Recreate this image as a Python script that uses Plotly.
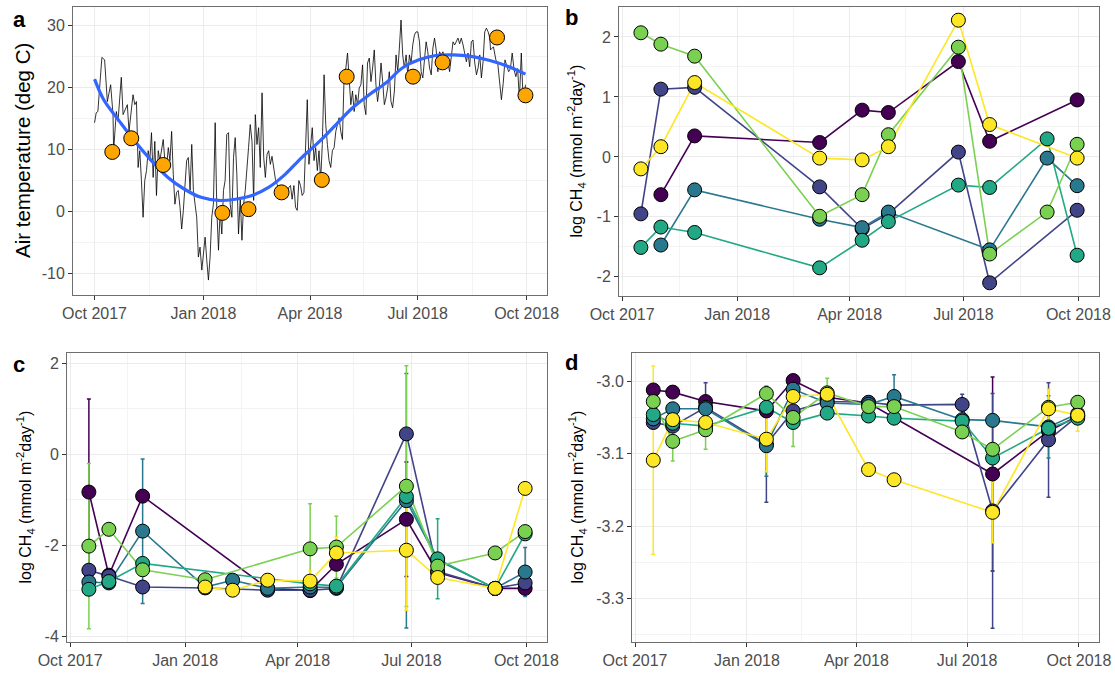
import pandas as pd
import plotly.graph_objects as go

W, H = 1115, 673
FONT = "Liberation Sans, Arial, Helvetica, sans-serif"

# ---------------------------------------------------------------- data
sample_dates = ["2017-10-16", "2017-11-01", "2017-11-28", "2018-01-17",
                "2018-02-08", "2018-03-08", "2018-04-11", "2018-05-02",
                "2018-06-27", "2018-07-22", "2018-09-06", "2018-09-30"]

# daily air temperature, as (days after 2017-10-01, deg C)
temp_day = [0, 1.4, 2.8, 4.2, 6.2, 8.5, 10.8, 13.6, 15.6, 16.1, 18.4, 19.8, 22.6,
            24.1, 27.7, 29.1, 32.5, 34.0, 35.4, 36.8, 38.2, 39.6, 41.0, 42.4,
            43.9, 45.3, 46.7, 48.1, 49.5, 50.9, 52.3, 53.8, 55.2, 58.0, 59.4,
            60.8, 62.3, 63.7, 65.1, 66.5, 67.9, 69.3, 70.7, 72.2, 73.6, 75.0,
            76.4, 77.8, 79.2, 80.7, 82.1, 83.5, 84.9, 86.3, 87.7, 89.1, 90.6,
            92.0, 93.4, 94.8, 96.2, 97.6, 99.0, 100.4, 101.9, 103.3, 104.7,
            106.1, 107.5, 108.9, 110.3, 111.7, 113.2, 114.6, 116.0, 117.4,
            118.8, 120.2, 121.6, 123.1, 124.5, 125.9, 127.3, 130.1, 131.5,
            133.0, 134.4, 135.8, 137.2, 138.6, 140.0, 141.5, 142.9, 144.3,
            145.7, 147.1, 148.5, 149.9, 151.3, 152.8, 154.2, 155.6, 158.4,
            161.2, 162.7, 164.1, 165.5, 166.9, 168.4, 169.8, 171.2, 172.6,
            174.0, 175.4, 176.9, 178.3, 179.7, 181.1, 182.5, 183.9, 185.4,
            186.8, 188.2, 189.6, 191.0, 192.4, 193.9, 195.3, 196.7, 198.1,
            199.5, 200.9, 202.4, 203.8, 205.2, 206.6, 208.0, 209.4, 210.8,
            212.3, 213.7, 215.1, 216.5, 217.9, 219.3, 220.7, 222.2, 223.6,
            225.0, 226.4, 227.8, 229.2, 230.6, 232.1, 233.5, 234.9, 236.3,
            237.7, 239.1, 240.5, 242.0, 243.4, 244.8, 246.2, 247.6, 249.0,
            250.4, 251.8, 253.3, 254.7, 256.1, 257.5, 258.9, 260.3, 261.7,
            263.2, 264.6, 266.0, 267.4, 268.8, 270.2, 271.6, 273.1, 274.5,
            275.9, 277.3, 278.7, 280.1, 281.5, 283.0, 284.4, 285.8, 287.2,
            288.6, 290.0, 291.4, 292.9, 294.3, 295.7, 298.5, 299.9, 301.4,
            302.8, 304.2, 305.6, 307.0, 308.4, 309.8, 311.3, 312.7, 314.1,
            315.5, 316.9, 318.3, 319.7, 321.2, 322.6, 324.0, 325.4, 326.8,
            328.2, 329.6, 331.0, 332.5, 333.9, 334.5, 337.0, 339.0, 340.6,
            343.7, 345.2, 346.7, 349.8, 351.3, 352.8, 354.4, 355.9, 357.4,
            358.9, 360.5, 362.0, 363.5, 364.0]
temp_c = [14.3, 15.9, 16.1, 20.4, 24.8, 24.4, 17.7, 20.4, 15.6, 9.8, 16.1, 14.5, 21.6,
          15.6, 17.2, 12.9, 18.8, 17.2, 17.7, 7.1, 9.8, 5.0, -0.9, 5.0,
          6.6, 9.8, 8.2, 12.7, 5.5, 11.3, 2.6, 9.8, 8.2, 11.6, 8.2,
          7.1, 10.3, 8.2, 12.9, 6.0, 1.2, 3.1, 3.4, 0.7, -2.8, 0.2,
          4.5, 8.2, 8.7, 3.4, 10.8, 3.4, 1.2, -0.9, -7.3, -5.7, -9.4,
          -6.2, -4.1, -7.8, -11.0, -7.3, -0.9, 1.2, 14.3, 0.2, -6.2,
          0.2, -3.6, 3.4, 5.0, 12.4, 12.7, 1.2, -0.9, 8.7,
          11.9, 6.0, -3.6, 2.3, -4.6, 1.2, 3.4, 10.3, 14.0,
          11.3, 1.8, 15.6, 10.8, 13.5, 7.1, 19.1, 8.7, 5.5,
          9.2, 9.8, 7.6, 8.9, 6.8, 5.2, 4.4, 3.4, 2.6,
          3.4, 2.3, 3.9, 4.2, 2.0, 4.2, 0.7, 0.2, 5.0,
          4.2, 2.6, 3.1, 10.8, 18.0, 7.6, 10.8, 13.5, 8.2,
          10.3, 6.6, 9.8, 5.0, 10.8, 22.0, 14.0, 10.8, 8.2,
          7.1, 9.8, 10.3, 12.9, 14.0, 15.1, 12.9, 11.6, 21.7,
          23.1, 25.5, 20.9, 17.2, 19.4, 16.1, 18.8, 17.2, 19.9,
          20.4, 23.6, 17.2, 15.6, 23.9, 24.7, 20.9, 23.1, 26.0,
          20.4, 17.7, 19.9, 23.9, 20.9, 17.2, 18.3, 19.9, 22.5,
          17.7, 16.7, 19.4, 25.2, 22.5, 26.3, 30.8, 25.2, 23.1,
          25.2, 22.0, 25.2, 23.9, 26.8, 28.4, 28.9, 28.9, 27.3,
          22.5, 21.5, 24.7, 27.3, 25.7, 23.1, 22.0, 26.3, 27.9,
          26.0, 22.5, 25.7, 25.2, 25.7, 24.7, 24.1, 22.5, 25.2,
          27.3, 26.8, 27.3, 27.9, 27.0, 27.9, 26.8, 25.7, 24.1,
          25.5, 23.3, 27.3, 27.6, 23.9, 22.0, 23.1, 25.2, 21.5,
          24.1, 28.9, 29.5, 28.9, 27.9, 26.0, 26.5, 24.4, 23.8,
          18.0, 20.6, 24.4, 22.5, 23.0, 25.5, 22.8, 21.7, 23.0,
          18.0, 25.5, 18.0, 19.1, 20.4]

# smoothed temperature trend
smooth_day = [0, 8, 20, 34, 48, 62, 76, 90, 105, 119, 133, 147, 161, 175,
              190, 204, 218, 232, 246, 260, 274, 288, 303, 317, 334, 350, 364]
smooth_c = [21.3, 17.9, 14.8, 11.3, 8.2, 5.5, 3.6, 2.3, 1.8, 2.0, 2.6, 3.9,
            6.0, 8.7, 11.3, 14.0, 16.7, 18.8, 20.7, 23.1, 24.4, 25.1, 25.2,
            25.0, 24.3, 23.3, 22.1]

# air temperature on sampling days
sample_temp = [9.6, 11.8, 7.5, -0.2, 0.4, 3.1, 5.1, 21.7, 21.7, 24.0, 28.0, 18.7]

series_colors = ["#440154", "#414487", "#2A788E", "#22A884", "#7AD151", "#FDE725"]

# panel b: log CH4 flux per series
b_series1 = [None, -0.63, 0.35, None, None, 0.24, 0.78, 0.74, 1.59, 0.26, None, 0.95]
b_series2 = [-0.95, 1.13, 1.16, None, None, -0.50, -1.20, -0.95, 0.08, -2.10, None, -0.89]
b_series3 = [None, -1.47, -0.55, None, None, -1.04, -1.18, -0.92, None, -1.55, -0.02, -0.48]
b_series4 = [-1.51, -1.17, -1.26, None, None, -1.85, -1.39, -1.08, -0.47, -0.51, 0.30, -1.64]
b_series5 = [2.07, 1.88, 1.68, None, None, -0.99, -0.63, 0.37, 1.83, -1.62, -0.92, 0.21]
b_series6 = [-0.20, 0.17, 1.24, None, None, -0.02, -0.05, 0.17, 2.28, 0.54, None, -0.02]

# panel c: means and error half-widths
c_series1 = [-0.83, -2.66, -0.92, None, None, -2.95, -3.00, -2.42, -1.43, -2.60, -2.95, -2.95]
c_series2 = [-2.55, -2.68, -2.92, -2.94, None, -2.99, -2.99, -2.95, 0.45, -2.58, -2.95, -2.83]
c_series3 = [-2.81, -2.83, -1.69, -2.92, -2.77, -2.95, -2.92, -2.93, -1.02, -2.33, -2.95, -2.59]
c_series4 = [-2.97, -2.80, -2.40, None, None, None, -2.85, -2.90, -0.93, -2.30, -2.95, -1.75]
c_series5 = [-2.02, -1.65, -2.54, -2.76, None, None, -2.08, -2.04, -0.70, -2.46, -2.17, -1.70]
c_series6 = [None, None, None, -2.92, -2.99, -2.77, -2.79, -2.17, -2.11, -2.71, -2.95, -0.75]
c_err1 = [2.05, 0, 0, 0, 0, 0, 0, 0, 1.26, 0, 0, 0]
c_err2 = [0, 0, 0, 0, 0, 0, 0, 0, 0, 0, 0, 0]
c_err3 = [0, 0, 1.59, 0, 0, 0, 0, 0, 2.80, 0, 0, 0.54]
c_err4 = [0, 0, 0, 0, 0, 0, 0, 0, 0, 0.88, 0, 0]
c_err5 = [1.82, 0, 0, 0, 0, 0, 0.99, 0.68, 2.65, 0, 0, 0]
c_err6 = [0, 0, 0, 0, 0, 0, 0.22, 0.35, 1.32, 0, 0, 0]

# panel d: means and error half-widths
d_series1 = [-3.012, -3.015, -3.028, -3.041, -2.999, -3.022, -3.030, None, None, -3.128, -3.069, -3.048]
d_series2 = [-3.057, -3.062, -3.036, -3.087, -3.041, -3.028, -3.029, -3.033, -3.032, -3.179, -3.081, -3.048]
d_series3 = [-3.052, -3.038, -3.038, -3.089, -3.011, -3.030, -3.032, -3.021, -3.053, -3.054, -3.063, -3.045]
d_series4 = [-3.046, -3.058, -3.062, -3.036, -3.057, -3.044, -3.048, -3.051, -3.055, -3.106, -3.065, -3.051]
d_series5 = [-3.028, -3.083, -3.067, -3.017, -3.050, -3.016, -3.035, -3.035, -3.070, -3.094, -3.036, -3.029]
d_series6 = [-3.109, -3.053, -3.057, -3.080, -3.021, -3.018, -3.122, -3.136, None, -3.181, -3.038, -3.047]
d_err1 = [0, 0, 0, 0, 0, 0, 0, 0, 0, 0.134, 0, 0]
d_err2 = [0, 0, 0.034, 0.080, 0, 0, 0, 0, 0.014, 0.162, 0.079, 0]
d_err3 = [0, 0, 0, 0.042, 0, 0, 0, 0.030, 0, 0, 0.043, 0]
d_err4 = [0, 0, 0, 0, 0, 0, 0, 0, 0, 0, 0, 0]
d_err5 = [0, 0.027, 0.027, 0, 0.040, 0.020, 0, 0, 0, 0, 0, 0]
d_err6 = [0.130, 0, 0, 0.045, 0, 0, 0, 0, 0, 0.042, 0.027, 0.022]

month_ticks = ["2017-10-01", "2018-01-01", "2018-04-01", "2018-07-01", "2018-10-01"]
month_labels = ["Oct 2017", "Jan 2018", "Apr 2018", "Jul 2018", "Oct 2018"]
month_minor = ["2017-11-16", "2018-02-15", "2018-05-16", "2018-08-16"]

# ---------------------------------------------------------------- helpers
origin = pd.Timestamp("2017-10-01")
temp_dates = [origin + pd.Timedelta(days=d) for d in temp_day]
smooth_dates = [origin + pd.Timedelta(days=d) for d in smooth_day]


def xdom(x0, x1):
    return [x0 / W, x1 / W]


def ydom(y0, y1):
    return [1 - y1 / H, 1 - y0 / H]


GRID = "#EBEBEB"
MINOR = "#F3F3F3"


def base_axis():
    return dict(showline=True, mirror=True, linecolor="#6E6E6E", linewidth=1,
                ticks="outside", ticklen=4, tickwidth=1, tickcolor="#333333",
                showgrid=True, gridcolor=GRID, gridwidth=1.4, zeroline=False,
                automargin=False,
                tickfont=dict(family=FONT, size=16, color="#4D4D4D"))


def x_axis(domain, rng, anchor):
    ax = base_axis()
    ax.update(type="date", domain=domain, range=rng, anchor=anchor,
              tickmode="array", tickvals=month_ticks, ticktext=month_labels,
              minor=dict(tickmode="array", tickvals=month_minor, showgrid=True,
                         gridcolor=MINOR, gridwidth=0.8, ticks=""))
    return ax


def y_axis(domain, rng, anchor, major, labels, minor):
    ax = base_axis()
    ax.update(domain=domain, range=rng, anchor=anchor,
              tickmode="array", tickvals=major, ticktext=labels,
              minor=dict(tickmode="array", tickvals=minor, showgrid=True,
                         gridcolor=MINOR, gridwidth=0.8, ticks=""))
    return ax


fig = go.Figure()

# ---------------------------------------------------------------- panel a
fig.add_trace(go.Scatter(x=temp_dates, y=temp_c, mode="lines",
                         line=dict(color="black", width=0.8),
                         xaxis="x", yaxis="y", hoverinfo="skip"))
fig.add_trace(go.Scatter(x=smooth_dates, y=smooth_c, mode="lines",
                         line=dict(color="#3366FF", width=3.2, shape="spline"),
                         xaxis="x", yaxis="y"))
fig.add_trace(go.Scatter(x=sample_dates, y=sample_temp, mode="markers",
                         marker=dict(size=15, color="#FFA500",
                                     line=dict(color="black", width=1)),
                         xaxis="x", yaxis="y"))


def add_panel(values, errors, xa, ya):
    # lines (and error bars) underneath, filled points on top
    for k, vals in enumerate(values):
        err = None
        if errors is not None:
            err = dict(type="data", array=errors[k], visible=True,
                       color=series_colors[k], thickness=1.5, width=2)
        fig.add_trace(go.Scatter(x=sample_dates, y=vals, mode="lines",
                                 connectgaps=True,
                                 line=dict(color=series_colors[k], width=1.6),
                                 error_y=err, xaxis=xa, yaxis=ya))
    for k, vals in enumerate(values):
        fig.add_trace(go.Scatter(x=sample_dates, y=vals, mode="markers",
                                 marker=dict(size=14, color=series_colors[k],
                                             line=dict(color="black", width=1)),
                                 xaxis=xa, yaxis=ya))


add_panel([b_series1, b_series2, b_series3, b_series4, b_series5, b_series6],
          None, "x2", "y2")
add_panel([c_series1, c_series2, c_series3, c_series4, c_series5, c_series6],
          [c_err1, c_err2, c_err3, c_err4, c_err5, c_err6], "x3", "y3")
add_panel([d_series1, d_series2, d_series3, d_series4, d_series5, d_series6],
          [d_err1, d_err2, d_err3, d_err4, d_err5, d_err6], "x4", "y4")

# ---------------------------------------------------------------- layout
pa = dict(x=(73, 547), y=(7, 295))
pb = dict(x=(619, 1099), y=(7, 296))
pc = dict(x=(67, 547), y=(353, 642))
pd_ = dict(x=(632, 1099), y=(353, 642))

rng_a = ["2017-09-12 19:00", "2018-10-18 05:00"]
rng_bcd = ["2017-09-28 12:00", "2018-10-17 12:00"]

fig.update_layout(
    width=W, height=H, margin=dict(l=0, r=0, t=0, b=0, autoexpand=False),
    paper_bgcolor="white", plot_bgcolor="white", showlegend=False,
    font=dict(family=FONT, color="black"),
    xaxis=x_axis(xdom(*pa["x"]), rng_a, "y"),
    yaxis=y_axis(ydom(*pa["y"]), [-13.4, 32.9], "x",
                 [-10, 0, 10, 20, 30], ["-10", "0", "10", "20", "30"],
                 [-5, 5, 15, 25]),
    xaxis2=x_axis(xdom(*pb["x"]), rng_bcd, "y2"),
    yaxis2=y_axis(ydom(*pb["y"]), [-2.32, 2.50], "x2",
                  [-2, -1, 0, 1, 2], ["-2", "-1", "0", "1", "2"],
                  [-1.5, -0.5, 0.5, 1.5]),
    xaxis3=x_axis(xdom(*pc["x"]), rng_bcd, "y3"),
    yaxis3=y_axis(ydom(*pc["y"]), [-4.13, 2.23], "x3",
                  [-4, -2, 0, 2], ["-4", "-2", "0", "2"],
                  [-3, -1, 1]),
    xaxis4=x_axis(xdom(*pd_["x"]), rng_bcd, "y4"),
    yaxis4=y_axis(ydom(*pd_["y"]), [-3.360, -2.961], "x4",
                  [-3.3, -3.2, -3.1, -3.0], ["-3.3", "-3.2", "-3.1", "-3.0"],
                  [-3.35, -3.25, -3.15, -3.05]),
)

flux_title = "log CH<sub>4</sub> (mmol m<sup>-2</sup>day<sup>-1</sup>)"
annotations = []
for letter, (lx, ly) in zip("abcd", [(19, 19), (571, 17), (19, 364), (571, 362)]):
    annotations.append(dict(text="<b>%s</b>" % letter, x=lx / W, y=1 - ly / H,
                            xref="paper", yref="paper", showarrow=False,
                            xanchor="center", yanchor="middle",
                            font=dict(family=FONT, size=22, color="black")))
titles = [("Air temperature (deg C)", 22, pa, 20.5),
          (flux_title, 577, pb, 16),
          (flux_title, 25, pc, 16),
          (flux_title, 577, pd_, 16)]
for text, tx, panel, size in titles:
    cy = (panel["y"][0] + panel["y"][1]) / 2
    annotations.append(dict(text=text, x=tx / W, y=1 - cy / H,
                            xref="paper", yref="paper", showarrow=False,
                            textangle=-90, xanchor="center", yanchor="middle",
                            font=dict(family=FONT, size=size, color="black")))
fig.update_layout(annotations=annotations)

fig.write_html("out.html")
